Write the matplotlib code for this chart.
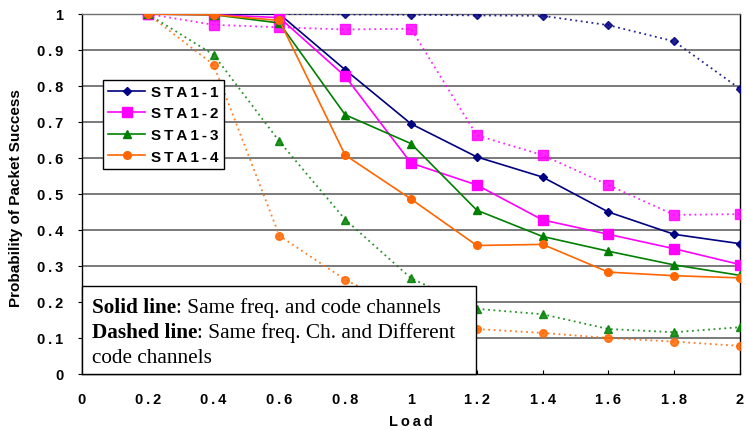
import numpy as np
import matplotlib
matplotlib.use("Agg")
import matplotlib.pyplot as plt

# load points and measured packet success probabilities
load = [0.2, 0.4, 0.6, 0.8, 1.0, 1.2, 1.4, 1.6, 1.8, 2.0]

# solid: same freq. and code channels
same_sta1 = [1.0, 1.0, 1.0, 0.845, 0.695, 0.603, 0.547, 0.45, 0.388, 0.362]
same_sta2 = [1.0, 0.998, 0.99, 0.827, 0.586, 0.525, 0.428, 0.388, 0.348, 0.304]
same_sta3 = [1.0, 0.998, 0.975, 0.72, 0.64, 0.455, 0.382, 0.341, 0.303, 0.274]
same_sta4 = [1.0, 0.998, 0.982, 0.608, 0.486, 0.357, 0.36, 0.283, 0.273, 0.267]

# dashed: same freq. ch. and different code channels
diff_sta1 = [1.0, 1.0, 1.0, 0.999, 0.998, 0.996, 0.995, 0.969, 0.924, 0.792]
diff_sta2 = [1.0, 0.97, 0.963, 0.957, 0.959, 0.663, 0.608, 0.525, 0.442, 0.444]
diff_sta3 = [1.0, 0.887, 0.646, 0.429, 0.266, 0.181, 0.166, 0.125, 0.116, 0.13]
diff_sta4 = [1.0, 0.859, 0.384, 0.262, 0.17, 0.125, 0.114, 0.1, 0.09, 0.078]

names = ["STA1-1", "STA1-2", "STA1-3", "STA1-4"]
colors = ["#000080", "#FF00FF", "#008000", "#FF6600"]
markers = ["D", "s", "^", "o"]
msizes = [4, 6.5, 6, 5.5]

x_ticks = [0, 0.2, 0.4, 0.6, 0.8, 1, 1.2, 1.4, 1.6, 1.8, 2]
y_ticks = [0, 0.1, 0.2, 0.3, 0.4, 0.5, 0.6, 0.7, 0.8, 0.9, 1]

SANS = ["Liberation Sans", "DejaVu Sans"]
SERIF = ["Liberation Serif", "DejaVu Serif"]


def spaced(s):
    return "\u2009".join(s)


def fmt(v):
    return "%g" % v


fig = plt.figure(figsize=(7.47, 4.31), dpi=100)
ax = fig.add_axes([82 / 747, 1 - 375 / 431, 658 / 747, 360 / 431])

for y in y_ticks[1:]:
    ax.axhline(y, color="#707070", lw=1.3, zorder=1)

solids = [same_sta1, same_sta2, same_sta3, same_sta4]
dashes = [diff_sta1, diff_sta2, diff_sta3, diff_sta4]
handles = []
for i in range(4):
    ax.plot(load, dashes[i], color=colors[i], lw=1.3, ls=(0, (1, 2)), alpha=0.85,
            marker=markers[i], ms=msizes[i], mec=colors[i], zorder=3)
    h, = ax.plot(load, solids[i], color=colors[i], lw=1.2,
                 marker=markers[i], ms=msizes[i], mec=colors[i], zorder=4)
    handles.append(h)

ax.set_xlim(0, 2)
ax.set_ylim(0, 1)
ax.set_xticks(x_ticks)
ax.set_yticks(y_ticks)
ax.set_xticklabels([spaced(fmt(v)) for v in x_ticks], family=SANS,
                   fontweight="bold", fontsize=10.5)
ax.set_yticklabels([spaced(fmt(v)) for v in y_ticks], family=SANS,
                   fontweight="bold", fontsize=10.5)
ax.tick_params(axis="x", direction="in", length=3, pad=13)
ax.tick_params(axis="y", direction="out", length=3, pad=10.5)
for s in ax.spines.values():
    s.set_color("black")
    s.set_linewidth(1.0)
ax.spines["top"].set_color("#707070")

fig.text(411 / 747, 1 - 422 / 431, spaced("Load"), family=SANS,
         fontweight="bold", fontsize=10.5, ha="center", va="center")
fig.text(16 / 747, 1 - 198 / 431, "Probability of Packet Success", family=SANS,
         fontweight="bold", fontsize=11, rotation=90, ha="center", va="center")

leg = ax.legend(handles, [spaced(n) for n in names], loc="upper left",
                bbox_to_anchor=((103 - 82) / 658, (375 - 80.5) / 360),
                prop={"family": SANS, "weight": "bold", "size": 11},
                frameon=True, fancybox=False, edgecolor="black", framealpha=1,
                borderpad=0.35, labelspacing=0.5, handlelength=2.4,
                handletextpad=0.4, borderaxespad=0)
leg.get_frame().set_linewidth(1.0)
leg.set_zorder(6)

# note box with line-style explanation
box = plt.Rectangle((0, 0), (476 - 82) / 658 * 2, (375 - 287) / 360,
                    facecolor="white", edgecolor="black", lw=1.0,
                    zorder=5, clip_on=False)
ax.add_patch(box)
tx = (92 - 82) / 658 * 2
lines = [("Solid line", ": Same freq. and code channels", 0.187),
         ("Dashed line", ": Same freq. Ch. and Different", 0.117),
         ("", "code channels", 0.047)]
for bold, rest, yy in lines:
    x1 = tx
    if bold:
        t = ax.text(tx, yy, bold, family=SERIF, fontweight="bold", fontsize=15.3,
                    va="center", ha="left", zorder=7)
        fig.canvas.draw()
        bb = t.get_window_extent()
        x1 = ax.transData.inverted().transform((bb.x1, 0))[0]
    ax.text(x1, yy, rest, family=SERIF, fontsize=15.3, va="center",
            ha="left", zorder=7)

fig.savefig("out.png", dpi=100)
